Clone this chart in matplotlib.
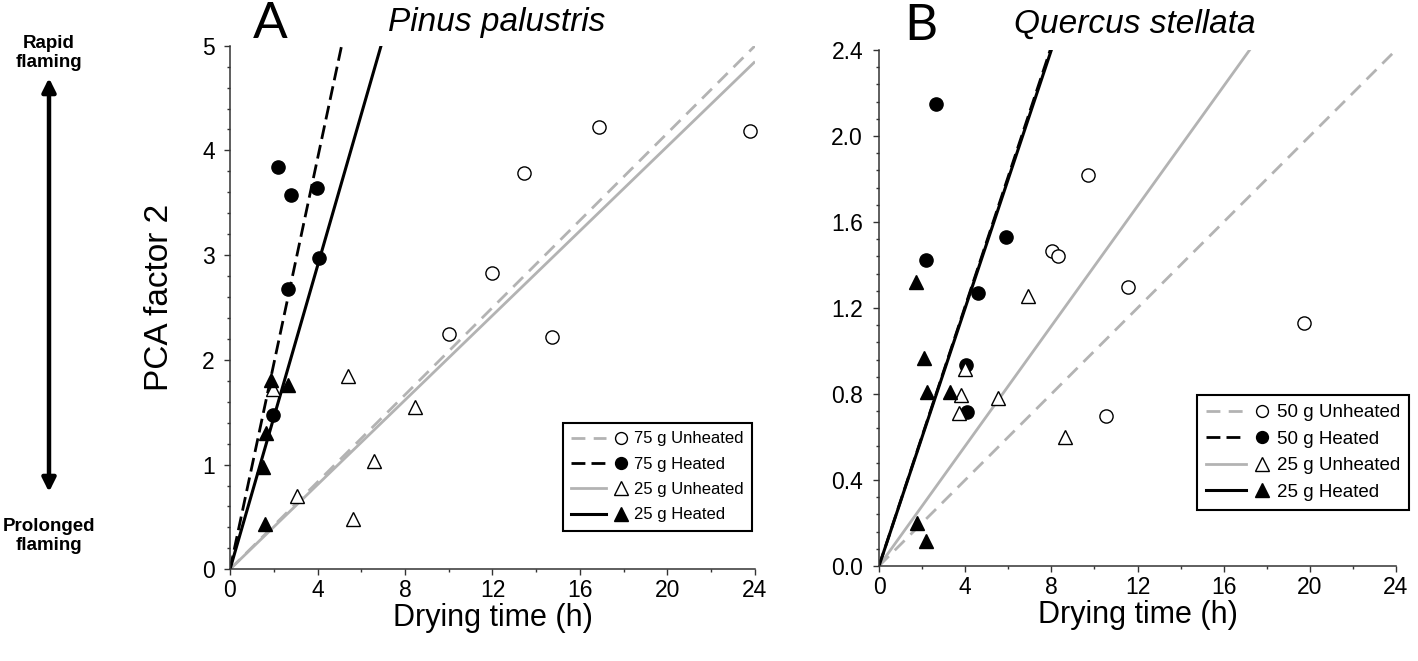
import matplotlib
matplotlib.use('Agg')
import matplotlib.pyplot as plt
import numpy as np
from matplotlib.legend_handler import HandlerBase
from matplotlib.lines import Line2D
from matplotlib.patches import FancyArrowPatch
from matplotlib.ticker import MultipleLocator, FormatStrFormatter

plt.rcParams['font.family'] = ['Liberation Sans', 'DejaVu Sans']

# ---------------- Panel A: Pinus palustris ----------------
a_u75_x = [10.02, 11.96, 13.43, 14.74, 16.85, 23.79]
a_u75_y = [2.246, 2.830, 3.784, 2.218, 4.227, 4.183]
a_h75_x = [2.19, 2.81, 3.96, 4.06, 2.64, 1.96]
a_h75_y = [3.837, 3.571, 3.639, 2.971, 2.673, 1.477]
a_u25_x = [1.96, 5.38, 8.44, 6.58, 3.08, 5.63]
a_u25_y = [1.723, 1.844, 1.554, 1.031, 0.696, 0.478]
a_h25_x = [1.89, 2.64, 1.66, 1.51, 1.58]
a_h25_y = [1.812, 1.763, 1.300, 0.978, 0.431]
# fitted slopes (lines through origin): u75, h75, u25, h25
a_slopes = [0.2083, 0.980, 0.202, 0.724]
a_labels = ['75 g Unheated', '75 g Heated', '25 g Unheated', '25 g Heated']

# ---------------- Panel B: Quercus stellata ----------------
b_u50_x = [9.69, 8.05, 8.31, 11.58, 19.75, 10.55]
b_u50_y = [1.818, 1.464, 1.442, 1.299, 1.130, 0.696]
b_h50_x = [2.63, 2.16, 5.89, 4.60, 4.02, 4.09]
b_h50_y = [2.149, 1.422, 1.530, 1.268, 0.935, 0.715]
b_u25_x = [6.90, 4.00, 3.82, 3.70, 5.52, 8.62]
b_u25_y = [1.256, 0.915, 0.795, 0.711, 0.780, 0.601]
b_h25_x = [1.74, 2.07, 2.22, 3.31, 1.75, 2.16]
b_h25_y = [1.319, 0.966, 0.809, 0.809, 0.202, 0.114]
b_slopes = [0.100, 0.302, 0.1395, 0.300]
b_labels = ['50 g Unheated', '50 g Heated', '25 g Unheated', '25 g Heated']

GRAY = '#b3b3b3'
W, H = 1418, 661
fig = plt.figure(figsize=(W / 100, H / 100), dpi=100)


def px(x0, y0, x1, y1):
    return [x0 / W, 1 - y1 / H, (x1 - x0) / W, (y1 - y0) / H]


axA = fig.add_axes(px(230, 45.7, 755, 569.3))
axB = fig.add_axes(px(879, 50, 1396, 566))

line_styles = [
    dict(color=GRAY, ls=(0, (5, 3)), lw=2.0),
    dict(color='black', ls=(0, (5, 2.2)), lw=2.0),
    dict(color=GRAY, ls='-', lw=2.0),
    dict(color='black', ls='-', lw=2.2),
]
marker_styles = [
    dict(marker='o', mfc='white', mec='black', ms=9.5),
    dict(marker='o', mfc='black', mec='black', ms=9.5),
    dict(marker='^', mfc='white', mec='black', ms=10.5),
    dict(marker='^', mfc='black', mec='black', ms=10.5),
]


class Entry:
    def __init__(self, lstyle, mstyle):
        self.lstyle = lstyle
        self.mstyle = mstyle


class EntryHandler(HandlerBase):
    def create_artists(self, legend, orig, xdescent, ydescent, width, height,
                       fontsize, trans):
        y = height / 2 - ydescent
        x0 = -xdescent
        ln = Line2D([x0, x0 + 0.62 * width], [y, y], **orig.lstyle)
        ms = dict(orig.mstyle)
        ms['ms'] = ms['ms'] * 0.9
        mk = Line2D([x0 + 0.88 * width], [y], ls='none', mew=1.0, **ms)
        ln.set_transform(trans)
        mk.set_transform(trans)
        return [ln, mk]


def draw_panel(ax, series, slopes, ymax, ymajor, yminor, yfmt, labels,
               leg_anchor, leg_fs, leg_sp, xpad, ypad):
    xs = np.array([0.0, 24.0])
    for s, ls in zip(slopes, line_styles):
        ax.plot(xs, s * xs, zorder=2, solid_capstyle='butt', **ls)
    for (x, y), ms in zip(series, marker_styles):
        ax.plot(x, y, ls='none', mew=1.0, zorder=3, clip_on=False, **ms)
    ax.set_xlim(0, 24)
    ax.set_ylim(0, ymax)
    ax.xaxis.set_major_locator(MultipleLocator(4))
    ax.xaxis.set_minor_locator(MultipleLocator(2))
    ax.yaxis.set_major_locator(MultipleLocator(ymajor))
    ax.yaxis.set_minor_locator(MultipleLocator(yminor))
    if yfmt:
        ax.yaxis.set_major_formatter(FormatStrFormatter(yfmt))
    for sp in ['top', 'right']:
        ax.spines[sp].set_visible(False)
    for sp in ['left', 'bottom']:
        ax.spines[sp].set_color('#333333')
        ax.spines[sp].set_linewidth(1.1)
    ax.tick_params(which='both', direction='out', color='#333333', width=1.0)
    ax.tick_params(which='major', length=4.0, labelsize=16.5)
    ax.tick_params(which='minor', length=2.2)
    ax.tick_params(axis='x', which='major', pad=xpad)
    ax.tick_params(axis='y', which='major', pad=ypad)
    ax.set_xlabel('Drying time (h)', fontsize=22, labelpad=1)
    handles = [Entry(l, m) for l, m in zip(line_styles, marker_styles)]
    leg = ax.legend(handles, labels, handler_map={Entry: EntryHandler()},
                    loc='upper left', bbox_to_anchor=leg_anchor,
                    bbox_transform=fig.transFigure, borderaxespad=0,
                    fontsize=leg_fs, handlelength=3.4, handletextpad=0.35,
                    labelspacing=leg_sp, borderpad=0.5, fancybox=False,
                    framealpha=1, edgecolor='black')
    leg.get_frame().set_linewidth(1.5)
    leg.set_zorder(5)


draw_panel(axA,
           [(a_u75_x, a_u75_y), (a_h75_x, a_h75_y), (a_u25_x, a_u25_y), (a_h25_x, a_h25_y)],
           a_slopes, 5, 1, 0.2, None, a_labels,
           (563 / W, 1 - 423 / H), 12, 0.62, 3, 7)
draw_panel(axB,
           [(b_u50_x, b_u50_y), (b_h50_x, b_h50_y), (b_u25_x, b_u25_y), (b_h25_x, b_h25_y)],
           b_slopes, 2.4, 0.4, 0.08, '%.1f', b_labels,
           (1197 / W, 1 - 395 / H), 13.5, 0.5, 3, 7.5)

axA.set_ylabel('PCA factor 2', fontsize=24)
axA.yaxis.set_label_coords((160 - 230) / 525, 0.52)
axA.yaxis.label.set_va('center')

# panel letters and species titles
fig.text(270 / W, 1 - 24 / H, 'A', fontsize=37, family=['Lato', 'DejaVu Sans'],
         ha='center', va='center')
fig.text(497 / W, 1 - 22 / H, 'Pinus palustris', fontsize=24, style='italic',
         ha='center', va='center')
fig.text(921 / W, 1 - 26 / H, 'B', fontsize=37, family=['Lato', 'DejaVu Sans'],
         ha='center', va='center')
fig.text(1135 / W, 1 - 24 / H, 'Quercus stellata', fontsize=24, style='italic',
         ha='center', va='center')

# left annotation
fig.text(49 / W, 1 - 53 / H, 'Rapid\nflaming', fontsize=13.5, weight='bold',
         ha='center', va='center', linespacing=1.15)
fig.text(49 / W, 1 - 536 / H, 'Prolonged\nflaming', fontsize=13.5, weight='bold',
         ha='center', va='center', linespacing=1.15)
arrow = FancyArrowPatch((49 / W, 1 - 492 / H), (49 / W, 1 - 78 / H),
                        transform=fig.transFigure, arrowstyle='<|-|>',
                        mutation_scale=20, lw=3.2, color='black',
                        shrinkA=0, shrinkB=0)
fig.add_artist(arrow)

fig.savefig('out.png', dpi=100)
